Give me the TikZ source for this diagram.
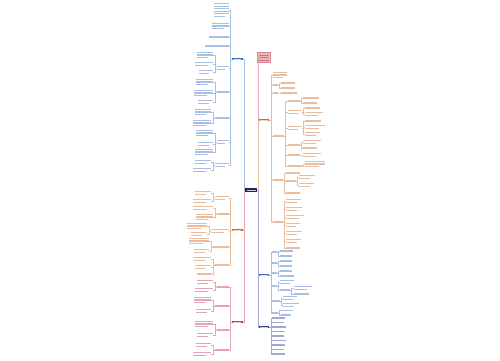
\documentclass[tikz,border=0pt]{standalone}
\usetikzlibrary{positioning}
\definecolor{cnavy}{HTML}{1F2A5C}
\definecolor{cblue}{HTML}{3B6FC6}
\definecolor{corange}{HTML}{D06A24}
\definecolor{cred}{HTML}{C2385A}
\definecolor{cdeep}{HTML}{2A3C9C}
\definecolor{csalmon}{HTML}{E8A2A0}
\tikzset{
  every picture/.style={x=1pt, y=-1pt},
  branch/.style={fill=#1, minimum width=11pt, minimum height=2.8pt, inner sep=0pt,
    path picture={\fill[white!75!#1] ([xshift=1.5pt,yshift=-0.45pt]path picture bounding box.west)
      rectangle ([xshift=-1.5pt,yshift=0.45pt]path picture bounding box.east);}},
  leaf/.style={inner sep=0pt, outer sep=0pt},
  link/.style={draw=#1!45, line width=0.4pt},
}
% greeked leaves: y / width / lines / name
\newcommand\kidsleft[4]{%
  \foreach \yy/\ww/\ll/\nm in {#4}{%
    \node[leaf, minimum width=\ww*1pt, minimum height=\ll*2.6pt, anchor=east] (\nm) at (#2,\yy) {};
    \foreach \k in {1,...,\ll}{%
      \fill[#3!45] ([yshift={-(\k-1)*2.6pt-0.75pt}]\nm.north west) rectangle ++({\ww*(1-0.3*(\k==\ll)*(\ll>1))*1pt},-1.1pt);
    }
    \draw[link=#3] (#1.west) -- ++(-1.5,0) |- (\nm.east);
  }}
\newcommand\kidsright[4]{%
  \foreach \yy/\ww/\ll/\nm in {#4}{%
    \node[leaf, minimum width=\ww*1pt, minimum height=\ll*2.6pt, anchor=west] (\nm) at (#2,\yy) {};
    \foreach \k in {1,...,\ll}{%
      \fill[#3!45] ([yshift={-(\k-1)*2.6pt-0.75pt}]\nm.north west) rectangle ++({\ww*(1-0.3*(\k==\ll)*(\ll>1))*1pt},-1.1pt);
    }
    \draw[link=#3] (#1.east) -- ++(1.5,0) |- (\nm.west);
  }}

\begin{document}
\begin{tikzpicture}
  \fill[white] (0,0) rectangle (500,360);
  \useasboundingbox (0,0) rectangle (500,360);

  % centre and main branches
  \node[branch=cnavy, minimum width=12pt, minimum height=3.6pt] (root) at (251,190) {};
  \node[branch=cblue, anchor=east] (lb) at (243,59) {};
  \node[branch=corange, anchor=east] (lo) at (243,230) {};
  \node[branch=cred, anchor=east] (lr) at (243,322) {};
  \node[branch=corange, anchor=west] (ro) at (258,120) {};
  \node[branch=cblue, anchor=west] (rb) at (258,275) {};
  \node[branch=cdeep, anchor=west] (rn) at (258,327) {};
  \node[draw=cred!60, fill=csalmon!80, minimum width=13pt, minimum height=10pt, inner sep=0pt] (memo) at (264,57.5) {};
  \foreach \k in {1,2,3}
    \fill[cred!70] ([xshift=1.5pt,yshift={-\k*2.6pt+0.2pt}]memo.north west) rectangle ++(10pt,-1.1pt);

  \draw[link=cblue] (root.west) -- ++(-1,0) |- (lb.east);
  \draw[link=corange] (root.west) -- ++(-1,0) |- (lo.east);
  \draw[link=cred] (root.west) -- ++(-1,0) |- (lr.east);
  \draw[link=cred] (root.east) -- ++(0.5,0) |- (memo.west);
  \draw[link=corange] (root.east) -- ++(0.5,0) |- (ro.west);
  \draw[link=cblue] (root.east) -- ++(0.5,0) |- (rb.west);
  \draw[link=cdeep] (root.east) -- ++(0.5,0) |- (rn.west);

  % left, blue
  \kidsleft{lb}{229}{cblue}{10/15/6/lb1, 26/17/3/lb2, 37/20/1/lb3, 46/24/1/lb4, 68/12/2/lb5, 92/12/1/lb6, 118/14/1/lb7, 142/12/2/lb8, 165/14/2/lb9}
  \kidsleft{lb5}{213}{cblue}{55/16/3/lb51, 64/18/2/lb52, 72/14/2/lb53}
  \kidsleft{lb6}{213}{cblue}{82/17/3/lb61, 93/19/3/lb62, 102/15/2/lb63}
  \kidsleft{lb7}{211}{cblue}{112/16/3/lb71, 123/18/3/lb72}
  \kidsleft{lb8}{213}{cblue}{133/17/3/lb81, 144/15/2/lb82, 152/18/3/lb83}
  \kidsleft{lb9}{211}{cblue}{162/16/2/lb91, 170/18/2/lb92}

  % left, orange
  \kidsleft{lo}{229}{corange}{198/14/2/lo1, 214/12/1/lo2, 231/18/2/lo3, 247/16/1/lo4, 265/14/1/lo5}
  \kidsleft{lo1}{211}{corange}{193/16/2/lo11, 201/18/2/lo12}
  \kidsleft{lo2}{213}{corange}{208/20/2/lo21, 217/17/3/lo22}
  \kidsleft{lo3}{207}{corange}{226/20/3/lo31, 234/16/2/lo32}
  \kidsleft{lo4}{209}{corange}{241/20/3/lo41, 251/15/2/lo42}
  \kidsleft{lo5}{211}{corange}{259/18/2/lo51, 267/16/2/lo52, 274/14/1/lo53}

  % left, red
  \kidsleft{lr}{229}{cred}{287/12/1/lr1, 306/14/1/lr2, 330/12/1/lr3, 350/14/1/lr4}
  \kidsleft{lr1}{213}{cred}{282/16/2/lr11, 290/18/2/lr12}
  \kidsleft{lr2}{211}{cred}{300/17/3/lr21, 311/15/2/lr22}
  \kidsleft{lr3}{213}{cred}{324/18/3/lr31, 335/16/2/lr32}
  \kidsleft{lr4}{211}{cred}{345/15/2/lr41, 354/18/2/lr42}

  % right, orange
  \kidsright{ro}{273}{corange}{75/14/3/ro1, 85/5/1/ro2, 93/5/1/ro3, 136/11/1/ro4, 180/10/1/ro5, 222/10/1/ro6}
  \kidsright{ro2}{281}{corange}{83/14/1/ro21, 88/14/1/ro22}
  \kidsright{ro3}{281}{corange}{93/16/1/ro31}
  \kidsright{ro4}{288}{corange}{101/12/1/ro41, 112/14/2/ro42, 128/14/2/ro43, 145/12/1/ro44, 155/12/1/ro45, 166/14/1/ro46}
  \kidsright{ro41}{303}{corange}{98/16/1/ro411, 103/14/1/ro412}
  \kidsright{ro42}{305}{corange}{108/15/1/ro421, 114/18/2/ro422}
  \kidsright{ro43}{305}{corange}{121/16/1/ro431, 127/20/2/ro432, 134/15/2/ro433}
  \kidsright{ro44}{303}{corange}{142/18/2/ro441, 148/14/1/ro442}
  \kidsright{ro45}{303}{corange}{155/18/2/ro451}
  \kidsright{ro46}{305}{corange}{164/20/3/ro461}
  \kidsright{ro5}{286}{corange}{173/14/1/ro51, 181/10/1/ro52, 193/14/1/ro53}
  \kidsright{ro52}{299}{corange}{177/16/2/ro521, 185/15/2/ro522}
  \kidsright{ro6}{286}{corange}{201/15/2/ro61, 209/16/2/ro62, 217/18/2/ro63, 225/14/2/ro64, 233/16/2/ro65, 241/15/2/ro66, 248/14/1/ro67}

  % right, blue
  \kidsright{rb}{272}{cblue}{252/5/1/rb1, 263/5/1/rb2, 273/5/1/rb3, 286/5/1/rb4, 301/8/1/rb5, 313/6/1/rb6}
  \kidsright{rb1}{280}{cblue}{251/13/1/rb11, 256/12/1/rb12}
  \kidsright{rb2}{280}{cblue}{261/12/1/rb21, 266/12/1/rb22}
  \kidsright{rb3}{280}{cblue}{271/12/1/rb31, 276/14/1/rb32}
  \kidsright{rb4}{280}{cblue}{282/14/2/rb41, 290/10/1/rb42}
  \kidsright{rb42}{294}{cblue}{288/18/2/rb421, 294/15/1/rb422}
  \kidsright{rb5}{283}{cblue}{298/14/2/rb51, 305/16/2/rb52}
  \kidsright{rb6}{281}{cblue}{310.5/12/1/rb61, 315/10/1/rb62}

  % right, navy
  \kidsright{rn}{272}{cdeep}{318/13/1/rn1, 322.5/12/1/rn2, 327/14/1/rn3, 331.5/13/1/rn4, 336/12/1/rn5, 340.5/14/1/rn6, 345/13/1/rn7, 349.5/12/1/rn8, 354/13/1/rn9}
\end{tikzpicture}
\end{document}
